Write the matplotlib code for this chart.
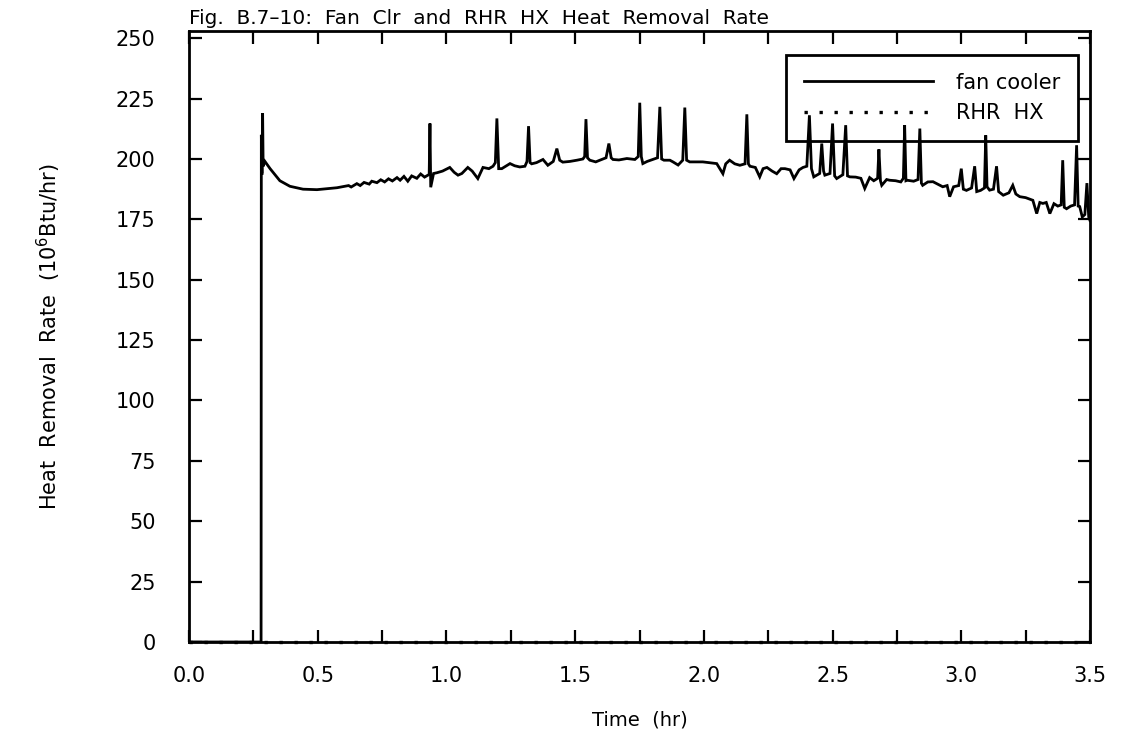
import matplotlib
matplotlib.use("Agg")
import matplotlib.pyplot as plt
from matplotlib.ticker import MultipleLocator

plt.rcParams['font.family'] = ['DejaVu Sans']

# fan cooler heat removal rate (10^6 Btu/hr) vs time (hr)
time_hr = [
    0.0, 0.280, 0.281, 0.283, 0.284, 0.286, 0.288, 0.295, 0.315, 0.353,
    0.392, 0.443, 0.497, 0.575, 0.620, 0.630, 0.652, 0.665, 0.680, 0.700,
    0.710, 0.730, 0.745, 0.760, 0.775, 0.790, 0.808, 0.820, 0.835, 0.850,
    0.865, 0.885, 0.900, 0.915, 0.933, 0.936, 0.939, 0.950, 0.963, 0.985,
    1.013, 1.030, 1.045, 1.060, 1.083, 1.100, 1.122, 1.142, 1.165, 1.181,
    1.190, 1.196, 1.203, 1.215, 1.230, 1.247, 1.265, 1.285, 1.305, 1.313,
    1.319, 1.325, 1.331, 1.350, 1.375, 1.394, 1.415, 1.429, 1.440, 1.452,
    1.480, 1.507, 1.530, 1.537, 1.542, 1.548, 1.557, 1.580, 1.596, 1.620,
    1.631, 1.640, 1.647, 1.670, 1.701, 1.732, 1.745, 1.751, 1.757, 1.763,
    1.780, 1.802, 1.820, 1.829, 1.836, 1.845, 1.868, 1.880, 1.900, 1.918,
    1.926, 1.933, 1.945, 1.970, 1.996, 2.020, 2.050, 2.074, 2.085, 2.100,
    2.120, 2.140, 2.160, 2.167, 2.173, 2.179, 2.200, 2.217, 2.230, 2.245,
    2.265, 2.283, 2.300, 2.315, 2.335, 2.350, 2.370, 2.385, 2.400, 2.410,
    2.418, 2.427, 2.450, 2.458, 2.465, 2.470, 2.490, 2.500, 2.508, 2.516,
    2.540, 2.551, 2.558, 2.567, 2.590, 2.610, 2.625, 2.644, 2.660, 2.675,
    2.680, 2.686, 2.691, 2.710, 2.722, 2.745, 2.765, 2.775, 2.780, 2.785,
    2.790, 2.815, 2.832, 2.839, 2.845, 2.850, 2.870, 2.890, 2.910, 2.928,
    2.945, 2.955, 2.970, 2.990, 3.000, 3.008, 3.020, 3.040, 3.052, 3.060,
    3.075, 3.090, 3.095, 3.100, 3.110, 3.125, 3.137, 3.145, 3.163, 3.185,
    3.200, 3.212, 3.227, 3.250, 3.278, 3.293, 3.305, 3.317, 3.330, 3.344,
    3.360, 3.375, 3.388, 3.394, 3.400, 3.409, 3.425, 3.440, 3.448, 3.454,
    3.460, 3.470, 3.480, 3.488, 3.495, 3.500,
]
fan_cooler = [
    0, 0, 210, 194, 194, 219, 197, 199, 196, 191,
    188.7, 187.5, 187.3, 188.1, 189.0, 188.4, 189.8, 189.0, 190.3, 189.6,
    190.8, 190.2, 191.4, 190.5, 191.8, 190.9, 192.3, 191.2, 192.8, 190.8,
    193.0, 192.0, 193.8, 192.5, 193.6, 214.7, 188.3, 194.0, 194.3, 195.0,
    196.5, 194.5, 193.3, 194.0, 196.5, 195.0, 191.9, 196.5, 196.0, 197.0,
    198.5, 216.8, 196.0, 196.0, 197.0, 198.1, 197.2, 196.7, 197.0, 199.0,
    213.6, 198.5, 198.0, 198.5, 199.8, 197.4, 199.0, 204.3, 199.5, 198.7,
    199.0, 199.5, 200.0, 201.0, 216.5, 200.5, 199.5, 198.8, 199.5, 200.5,
    206.4, 200.5, 199.8, 199.6, 200.2, 199.8, 201.0, 223.3, 201.0, 198.1,
    199.0, 199.8, 200.5, 221.6, 200.0, 199.5, 199.5, 198.8, 197.5, 199.5,
    221.3, 199.5, 198.8, 198.8, 198.8, 198.5, 198.1, 193.9, 198.0, 199.5,
    198.0, 197.4, 198.0, 218.5, 198.0, 197.0, 196.5, 192.6, 196.0, 196.5,
    195.0, 193.9, 196.0, 196.0, 195.5, 191.9, 195.5, 196.5, 197.0, 218.1,
    196.0, 192.6, 194.0, 206.4, 195.0, 193.3, 194.0, 214.7, 193.0, 191.9,
    193.5, 214.0, 193.0, 192.6, 192.5, 192.0, 187.8, 192.3, 191.0, 192.0,
    204.0, 191.0, 189.1, 191.5, 191.2, 191.0, 190.5, 192.0, 214.0, 191.0,
    191.2, 190.8, 191.5, 212.6, 190.0, 189.1, 190.5, 190.6, 189.5, 188.5,
    189.0, 184.4, 188.5, 189.0, 196.0, 187.5, 187.0, 188.0, 197.0, 186.5,
    187.0, 188.0, 209.8, 188.5, 187.1, 187.5, 197.0, 186.5, 185.0, 186.0,
    189.1, 185.5, 184.4, 184.0, 182.9, 177.4, 182.0, 181.6, 182.0, 177.4,
    181.5, 180.5, 181.0, 199.5, 180.0, 179.4, 180.5, 181.0, 205.7, 180.5,
    180.3, 176.0, 177.0, 190.0, 176.0, 174.5,
]

# RHR HX stays at zero over the whole transient
rhr_time = [0.0, 3.5]
rhr_hx = [0, 0]

x_ticks = [0.0, 0.5, 1.0, 1.5, 2.0, 2.5, 3.0, 3.5]
x_labels = ['0.0', '0.5', '1.0', '1.5', '2.0', '2.5', '3.0', '3.5']
y_ticks = [0, 25, 50, 75, 100, 125, 150, 175, 200, 225, 250]

fig = plt.figure(figsize=(11.42, 7.30), dpi=100)
ax = fig.add_axes([189 / 1142, 1 - 642 / 730, (1090 - 189) / 1142, (642 - 31) / 730])

ax.plot(time_hr, fan_cooler, color='black', lw=2.0, solid_joinstyle='miter', label='fan cooler')
ax.plot(rhr_time, rhr_hx, color='black', lw=2.4, ls=(0, (1, 3.5)), label='RHR  HX', clip_on=False)

ax.set_xlim(0, 3.5)
ax.set_ylim(0, 253)
ax.set_xticks(x_ticks)
ax.set_xticklabels(x_labels)
ax.xaxis.set_minor_locator(MultipleLocator(0.25))
ax.set_yticks(y_ticks)
ax.set_yticklabels([str(v) for v in y_ticks])

ax.tick_params(which='both', direction='in', top=True, right=True,
               length=9, width=1.6, labelsize=15)
ax.tick_params(axis='x', which='both', pad=17)
ax.tick_params(axis='y', pad=24)
for s in ax.spines.values():
    s.set_linewidth(2.0)

ax.set_xlabel('Time  (hr)', fontsize=14, labelpad=18)
ax.set_ylabel('Heat  Removal  Rate  (10$^6$Btu/hr)', fontsize=15, labelpad=38)
ax.text(0.0, 1.005, 'Fig.  B.7\u201310:  Fan  Clr  and  RHR  HX  Heat  Removal  Rate',
        transform=ax.transAxes, ha='left', va='bottom', fontsize=14.5)

# legend box is see-through, the spikes show inside it
leg = ax.legend(loc='upper right', bbox_to_anchor=(0.9867, 0.9607), borderaxespad=0,
                fontsize=15, handlelength=6.2, handletextpad=1.1, borderpad=0.85,
                labelspacing=0.5, fancybox=False, framealpha=1)
leg.get_frame().set_facecolor('none')
leg.get_frame().set_edgecolor('black')
leg.get_frame().set_linewidth(2.0)

fig.savefig('out.png', dpi=100)
